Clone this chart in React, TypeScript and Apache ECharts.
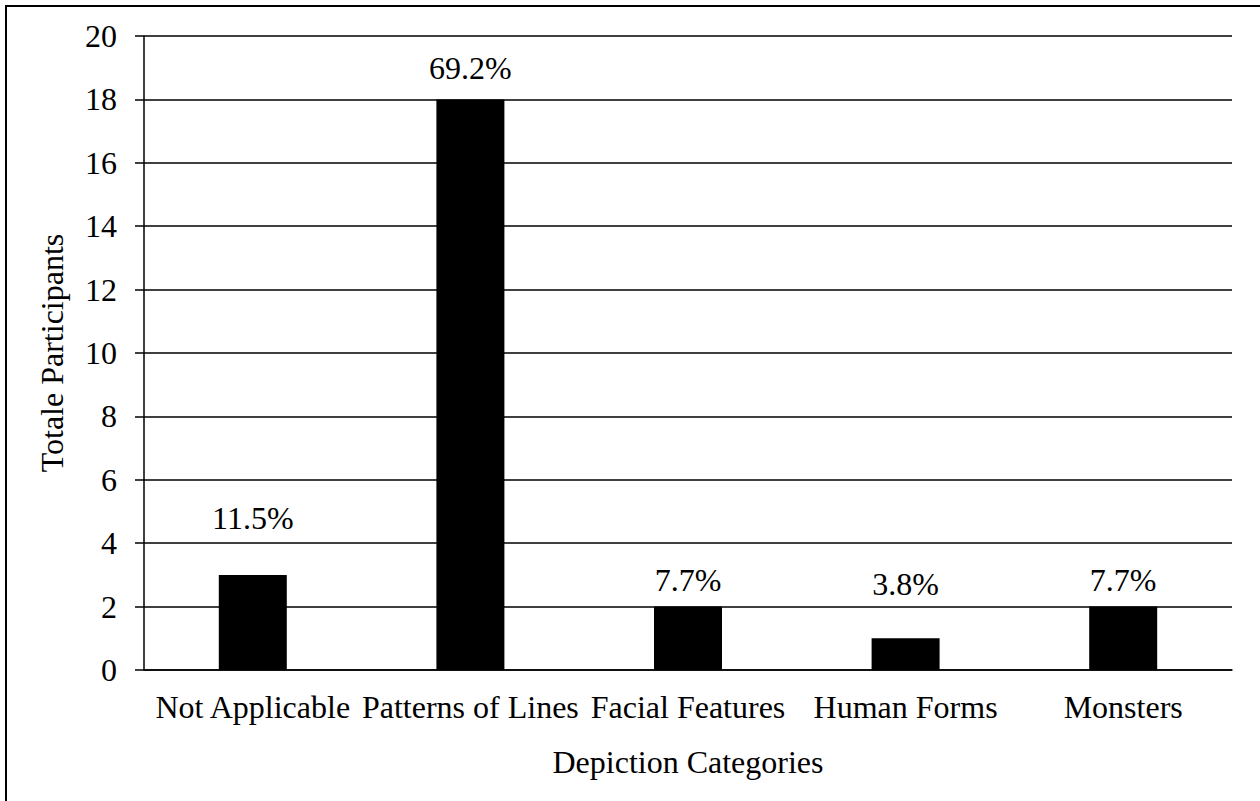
import React, { useEffect, useRef } from "react";
import * as echarts from "echarts";

const categories = ["Not Applicable", "Patterns of Lines", "Facial Features", "Human Forms", "Monsters"];
const participants = [3, 18, 2, 1, 2];
const percentLabels = ["11.5%", "69.2%", "7.7%", "3.8%", "7.7%"];
const labelDistances = [41, 15, 11, 38, 11];

const FONT = "'Times New Roman', 'Liberation Serif', serif";
const FS = 32;

export default function App() {
  const ref = useRef<HTMLDivElement>(null);
  useEffect(() => {
    if (!ref.current) return;
    const chart = echarts.init(ref.current, undefined, { renderer: "svg" });
    chart.setOption({
      animation: false,
      backgroundColor: "#fff",
      textStyle: { fontFamily: FONT, color: "#000" },
      graphic: [
        {
          type: "rect",
          shape: { x: 6, y: 6, width: 1300, height: 900 },
          style: { fill: "none", stroke: "#000", lineWidth: 2 },
          silent: true,
        },
      ],
      grid: { left: 144, right: 28, top: 36, bottom: 131, containLabel: false },
      xAxis: {
        type: "category",
        data: categories,
        name: "Depiction Categories",
        nameLocation: "middle",
        nameGap: 76,
        nameTextStyle: { fontFamily: FONT, fontSize: FS, color: "#000" },
        axisLine: { lineStyle: { color: "#000", width: 1.5 } },
        axisTick: { show: false },
        axisLabel: { fontFamily: FONT, fontSize: FS, color: "#000", margin: 21, interval: 0 },
      },
      yAxis: {
        type: "value",
        min: 0,
        max: 20,
        interval: 2,
        name: "Totale Participants",
        nameLocation: "middle",
        nameGap: 76,
        nameTextStyle: { fontFamily: FONT, fontSize: FS, color: "#000" },
        axisLine: { show: true, lineStyle: { color: "#000", width: 1.5 } },
        axisTick: { show: true, inside: false, length: 9, lineStyle: { color: "#000", width: 1.5 } },
        axisLabel: { fontFamily: FONT, fontSize: FS, color: "#000", margin: 27 },
        splitLine: { show: true, lineStyle: { color: "#000", width: 1.5 } },
      },
      series: [
        {
          type: "bar",
          barWidth: 68,
          itemStyle: { color: "#000" },
          data: participants.map((v, i) => ({
            value: v,
            label: {
              show: true,
              position: "top",
              distance: labelDistances[i],
              formatter: percentLabels[i],
              fontFamily: FONT,
              fontSize: FS,
              color: "#000",
            },
          })),
        },
      ],
    });
    return () => chart.dispose();
  }, []);
  return <div ref={ref} style={{ position: "absolute", left: 0, top: 0, width: 1260, height: 801 }} />;
}
